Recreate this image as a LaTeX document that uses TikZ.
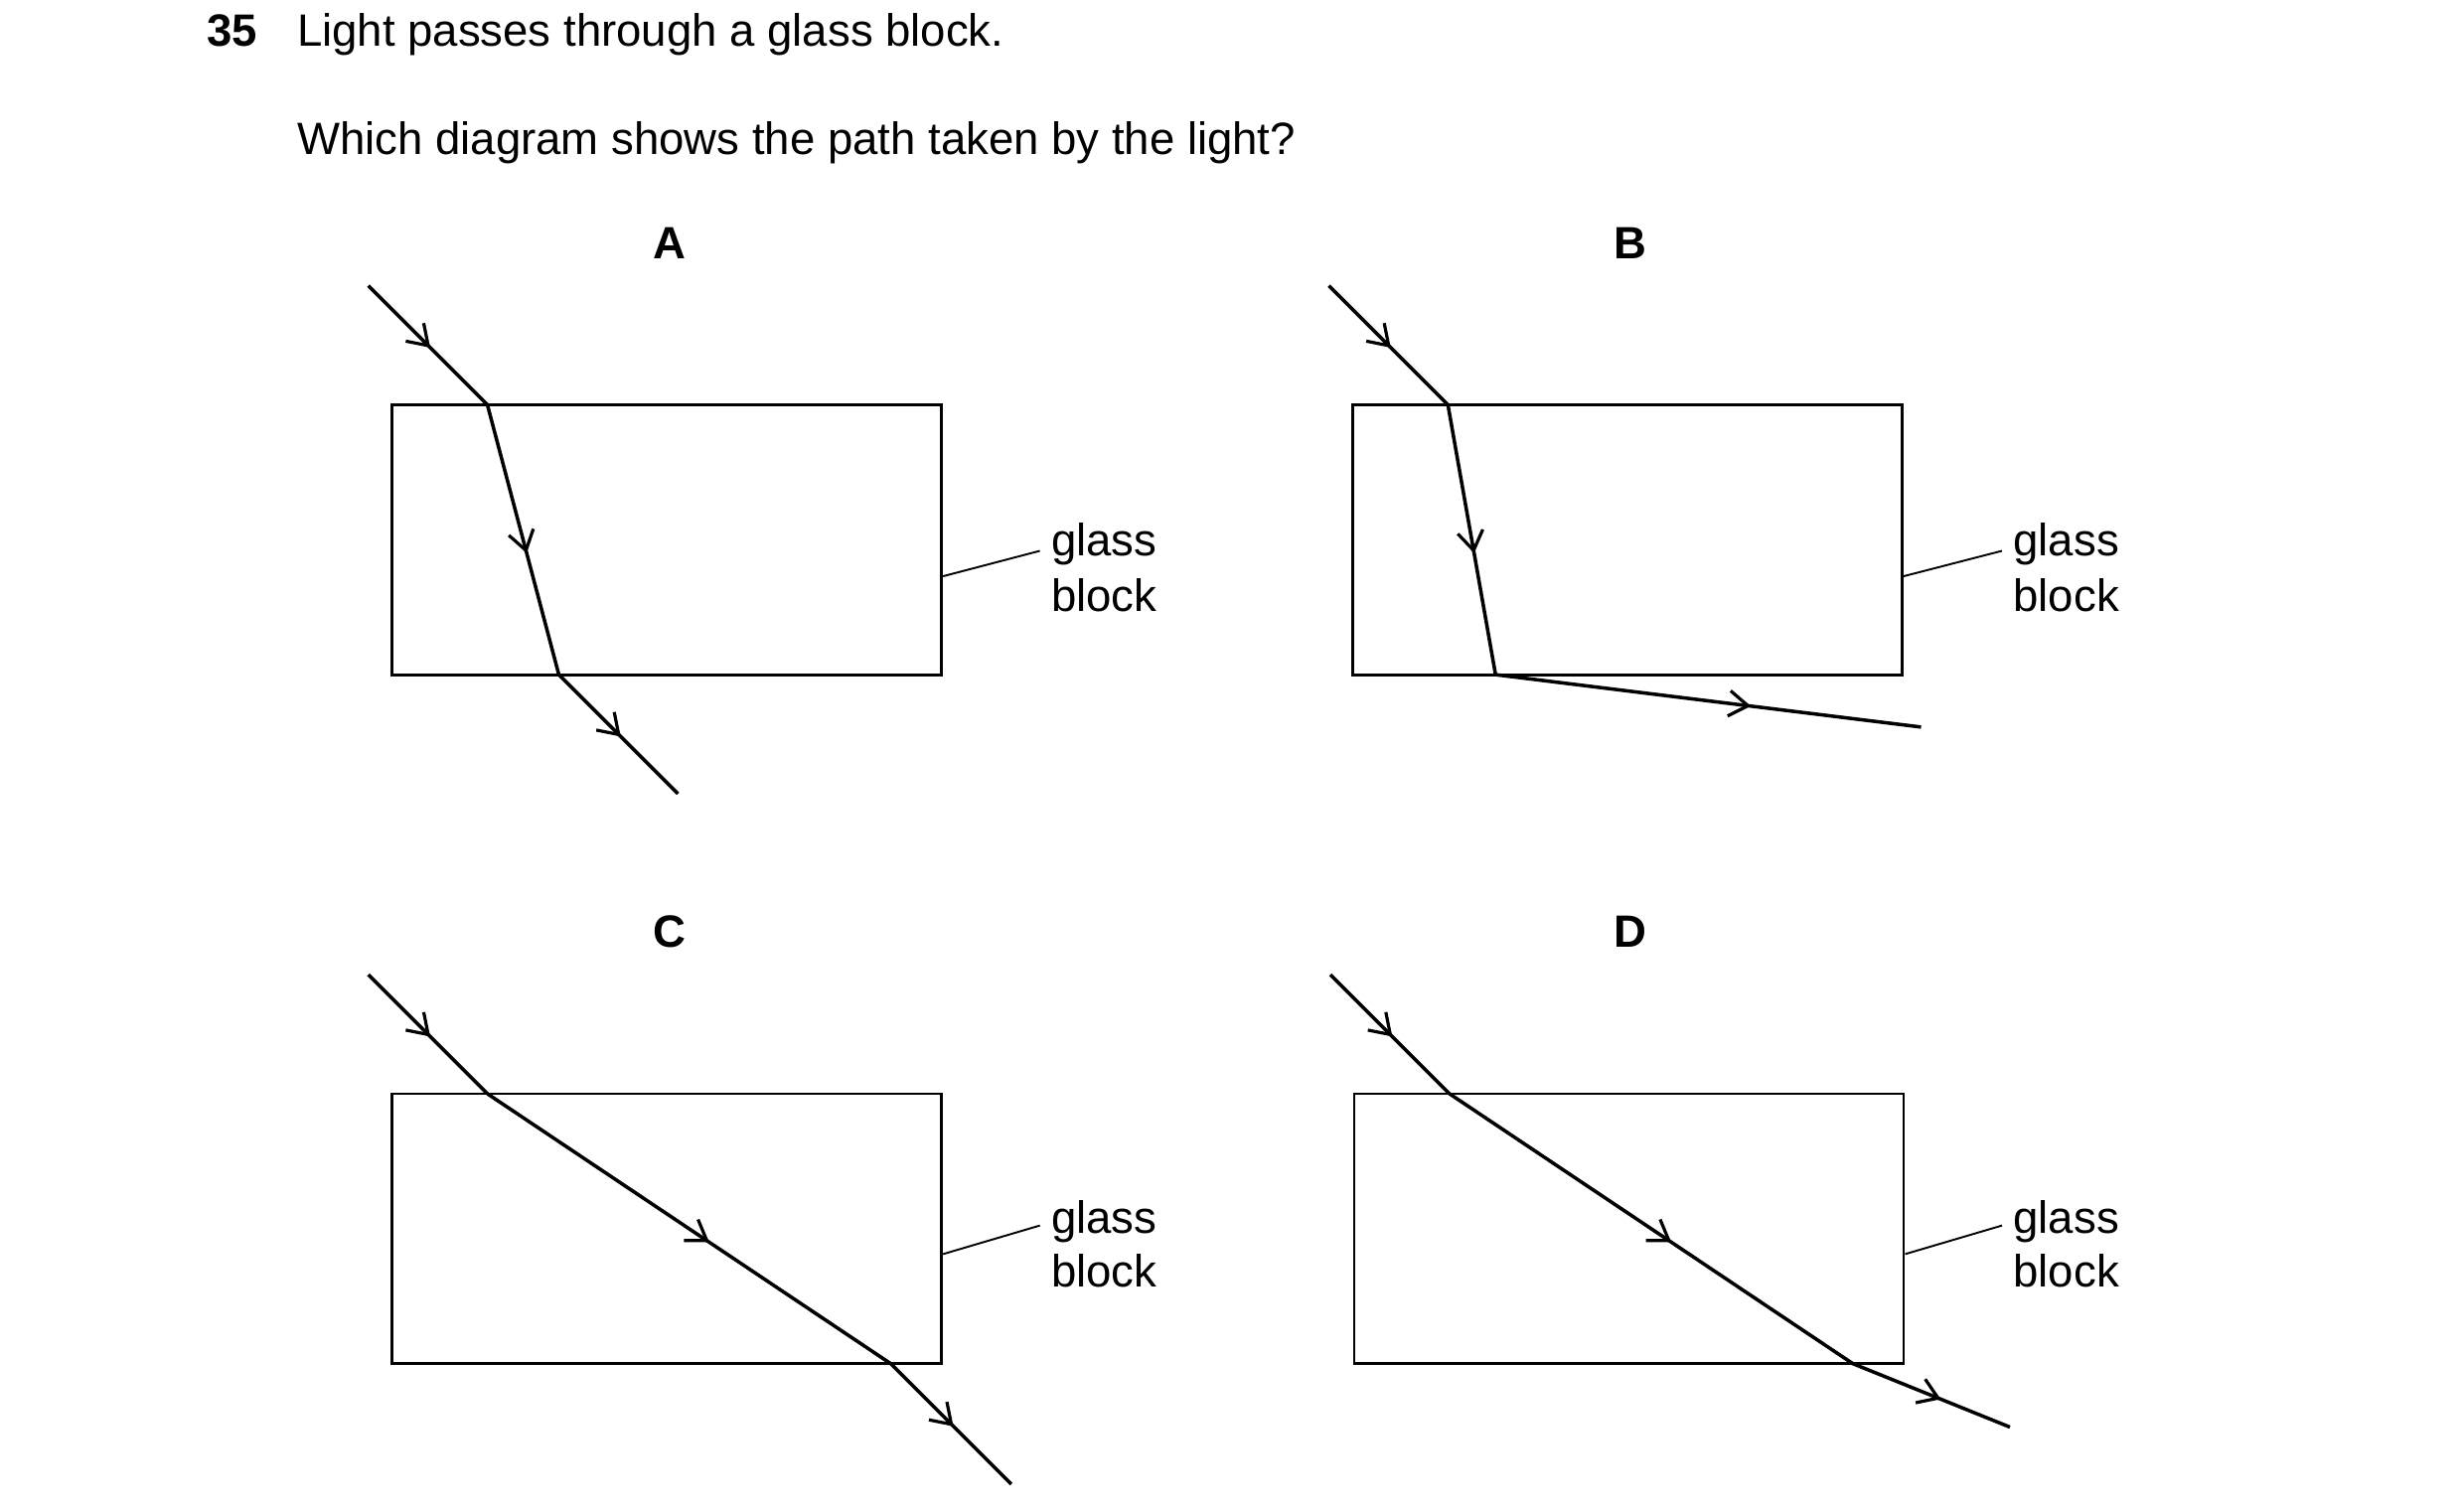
\documentclass[tikz,border=0pt]{standalone}
\usepackage{fontspec}
\setmainfont{Liberation Sans}
\usetikzlibrary{decorations.markings,arrows.meta}
\begin{document}
\begin{tikzpicture}[x=1pt,y=-1pt,
  txt/.style={font=\fontsize{28.5}{34}\selectfont,inner sep=0,anchor=base west},
  lbl/.style={font=\fontsize{28.5}{34}\selectfont\bfseries,inner sep=0,anchor=base},
  block/.style={draw,line width=1.8pt},
  lead/.style={line width=1.2pt},
  ray/.style={line width=2.2pt,line join=miter,postaction=decorate,decoration={markings,mark=at position #1 with {\arrow{Straight Barb[length=12pt,width=16pt,line width=2pt]}}}},
  ray/.default=0.52]
\useasboundingbox (0,0) rectangle (1552,951);
\node[txt,font=\fontsize{28.5}{34}\selectfont\bfseries] (q) at (130,29) {35};
\node[txt] (t1) at (187,29) {Light passes through a glass block.};
\node[txt] (t2) at (187,97) {Which diagram shows the path taken by the light?};
% A
\node[lbl] (la) at (422,163) {A};
\draw[block] (247,255) rectangle (593,425);
\coordinate (a0) at (232,180); \coordinate (a1) at (307,255); \coordinate (a2) at (352,425); \coordinate (a3) at (427,500);
\draw[ray] (a0)--(a1); \draw[ray=0.55] (a1)--(a2); \draw[ray] (a2)--(a3);
\coordinate (ga) at (594,363);
\node[txt] (gA) at (662,350) {glass};
\node[txt] (bA) at (662,385) {block};
\draw[lead] (ga)--(655,347);
% B
\node[lbl] (lb) at (1027,163) {B};
\draw[block] (852,255) rectangle (1198,425);
\coordinate (b0) at (837,180); \coordinate (b1) at (912,255); \coordinate (b2) at (942,425); \coordinate (b3) at (1210,458);
\draw[ray] (b0)--(b1); \draw[ray=0.55] (b1)--(b2); \draw[ray=0.6] (b2)--(b3);
\coordinate (gb) at (1199,363);
\node[txt] (gB) at (1268,350) {glass};
\node[txt] (bB) at (1268,385) {block};
\draw[lead] (gb)--(1261,347);
% C
\node[lbl] (lc) at (422,597) {C};
\draw[block] (247,689) rectangle (593,859);
\coordinate (c0) at (232,614); \coordinate (c1) at (307,689); \coordinate (c2) at (561,859); \coordinate (c3) at (637,935);
\draw[ray] (c0)--(c1); \draw[ray=0.55] (c1)--(c2); \draw[ray] (c2)--(c3);
\coordinate (gc) at (594,790);
\node[txt] (gC) at (662,777) {glass};
\node[txt] (bC) at (662,811) {block};
\draw[lead] (gc)--(655,772);
% D
\node[lbl] (ld) at (1027,597) {D};
\draw[block] (853,689) rectangle (1199,859);
\coordinate (d0) at (838,614); \coordinate (d1) at (913,689); \coordinate (d2) at (1167,859); \coordinate (d3) at (1266,899);
\draw[ray] (d0)--(d1); \draw[ray=0.55] (d1)--(d2); \draw[ray=0.56] (d2)--(d3);
\coordinate (gd) at (1200,790);
\node[txt] (gD) at (1268,777) {glass};
\node[txt] (bD) at (1268,811) {block};
\draw[lead] (gd)--(1261,772);
\end{tikzpicture}
\end{document}
